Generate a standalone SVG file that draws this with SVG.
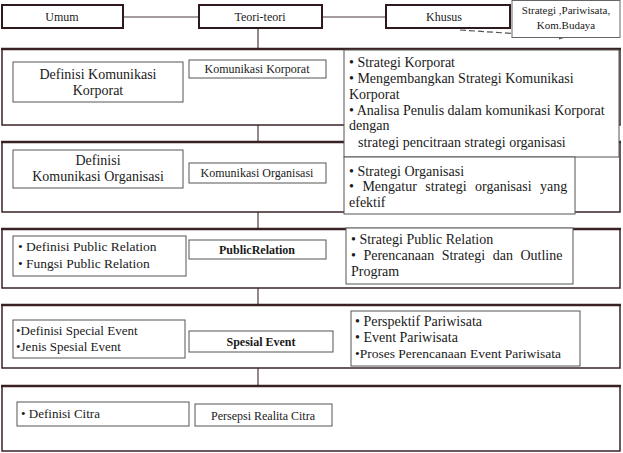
<svg xmlns="http://www.w3.org/2000/svg" width="623" height="453" viewBox="0 0 623 453" font-family="'Liberation Serif', 'DejaVu Serif', serif">
<defs>
<style>
text{fill:#1a1a1a}
.sec{fill:#fff;stroke:#3a2224;stroke-width:1.5}
.top{stroke:#3a2224;stroke-width:2.5}
.tb{fill:#fff;stroke:#2e1a1c;stroke-width:2}
.ib{fill:#fff;stroke:#555;stroke-width:1}
.lb{font-size:12px;text-anchor:middle}
.t14{font-size:14px}
.c{text-anchor:middle}
.ln{stroke:#4a3a3a;stroke-width:1.2;fill:none}
</style>
<marker id="ah" markerWidth="8" markerHeight="6" refX="7" refY="3" orient="auto" markerUnits="userSpaceOnUse">
<path d="M0,0 L8,3 L0,6 Z" fill="#555"/>
</marker>
</defs>
<rect width="623" height="453" fill="#fff"/>

<g id="connectors">
<line class="ln" x1="123" y1="17" x2="199" y2="17"/>
<line class="ln" x1="322" y1="17" x2="386" y2="17"/>
<line class="ln" x1="258" y1="29" x2="258" y2="49"/>
<path d="M460,30 L566,37" stroke="#555" stroke-width="1.2" stroke-dasharray="6,3" fill="none" marker-end="url(#ah)"/>
<line class="ln" x1="258" y1="125" x2="258" y2="142"/>
<line class="ln" x1="258" y1="212" x2="258" y2="229"/>
<line class="ln" x1="258" y1="288" x2="258" y2="305"/>
<line class="ln" x1="258" y1="368" x2="258" y2="386"/>
</g>

<g id="umum"><rect class="tb" x="2" y="5" width="121" height="23"/><text class="c" x="62" y="21" font-size="12">Umum</text></g>
<g id="teori"><rect class="tb" x="199" y="5" width="123" height="23"/><text class="c" x="260" y="21" font-size="12">Teori-teori</text></g>
<g id="khusus"><rect class="tb" x="386" y="5" width="124" height="23"/><text class="c" x="444" y="21" font-size="12">Khusus</text></g>
<g id="strategi-pariwisata"><rect x="512" y="0.5" width="108" height="37" fill="#fff" stroke="#666" stroke-width="1"/><text class="c" x="566" y="14" font-size="11">Strategi ,Pariwisata,</text><text class="c" x="566" y="29" font-size="11">Kom.Budaya</text></g>

<g id="sec1">
<rect class="sec" x="2" y="49" width="618" height="76"/>
<line class="top" x1="1" y1="49" x2="621" y2="49"/>
<rect class="ib" x="13" y="62" width="170" height="40"/>
<text class="c" x="98" y="79" font-size="14">Definisi Komunikasi</text>
<text class="c" x="98" y="95" font-size="14">Korporat</text>
<rect class="ib" x="189" y="60" width="137" height="18"/>
<text class="lb" x="257" y="73">Komunikasi Korporat</text>
</g>

<g id="sec2">
<rect class="sec" x="2" y="142" width="618" height="70"/>
<line class="top" x1="1" y1="142" x2="621" y2="142"/>
<rect class="ib" x="13" y="150" width="170" height="38"/>
<text class="c" x="98" y="165" font-size="14">Definisi</text>
<text class="c" x="98" y="181" font-size="14">Komunikasi Organisasi</text>
<rect class="ib" x="189" y="163" width="137" height="20"/>
<text class="lb" x="257" y="177">Komunikasi Organisasi</text>
</g>

<g id="sec1-list">
<rect class="ib" x="344" y="50" width="275" height="107"/>
<text class="t14" x="349" y="67">• Strategi Korporat</text>
<text class="t14" x="349" y="83">• Mengembangkan Strategi Komunikasi</text>
<text class="t14" x="349" y="99">Korporat</text>
<text class="t14" x="349" y="115">• Analisa Penulis dalam komunikasi Korporat</text>
<text class="t14" x="349" y="130">dengan</text>
<text class="t14" x="358" y="147">strategi pencitraan strategi organisasi</text>
</g>

<g id="sec2-list">
<rect class="ib" x="344" y="157" width="231" height="57"/>
<text class="t14" x="349" y="176">• Strategi Organisasi</text>
<text class="t14" x="349" y="191" word-spacing="5">• Mengatur strategi organisasi yang</text>
<text class="t14" x="349" y="207">efektif</text>
</g>

<g id="sec3">
<rect class="sec" x="2" y="229" width="618" height="59"/>
<line class="top" x1="1" y1="229" x2="621" y2="229"/>
<rect class="ib" x="13" y="236" width="173" height="40"/>
<text x="18" y="251" font-size="13.5">• Definisi Public Relation</text>
<text x="18" y="268" font-size="13.5">• Fungsi Public Relation</text>
<rect class="ib" x="189" y="240" width="137" height="19"/>
<text class="lb" x="257" y="254" font-weight="bold">PublicRelation</text>
<rect class="ib" x="346" y="228" width="227" height="56"/>
<text class="t14" x="351" y="244">• Strategi Public Relation</text>
<text class="t14" x="351" y="260" word-spacing="4">• Perencanaan Strategi dan Outline</text>
<text class="t14" x="351" y="276">Program</text>
</g>

<g id="sec4">
<rect class="sec" x="2" y="305" width="618" height="63"/>
<line class="top" x1="1" y1="305" x2="621" y2="305"/>
<rect class="ib" x="13" y="320" width="172" height="38"/>
<text x="16" y="335" font-size="13">•Definisi  Special Event</text>
<text x="16" y="351" font-size="13">•Jenis Spesial Event</text>
<rect class="ib" x="189" y="331" width="144" height="21"/>
<text class="lb" x="261" y="346" font-weight="bold">Spesial Event</text>
<rect class="ib" x="351" y="311" width="229" height="55"/>
<text class="t14" x="355" y="326">• Perspektif Pariwisata</text>
<text class="t14" x="355" y="342">• Event Pariwisata</text>
<text x="355" y="358" font-size="13.5">•Proses Perencanaan Event Pariwisata</text>
</g>

<g id="sec5">
<rect class="sec" x="2" y="386" width="618" height="65"/>
<line class="top" x1="1" y1="386" x2="621" y2="386"/>
<rect class="ib" x="17" y="402" width="172" height="24"/>
<text x="21" y="418" font-size="13">• Definisi Citra</text>
<rect class="ib" x="195" y="404" width="137" height="22"/>
<text class="lb" x="263" y="420">Persepsi Realita Citra</text>
</g>
</svg>
